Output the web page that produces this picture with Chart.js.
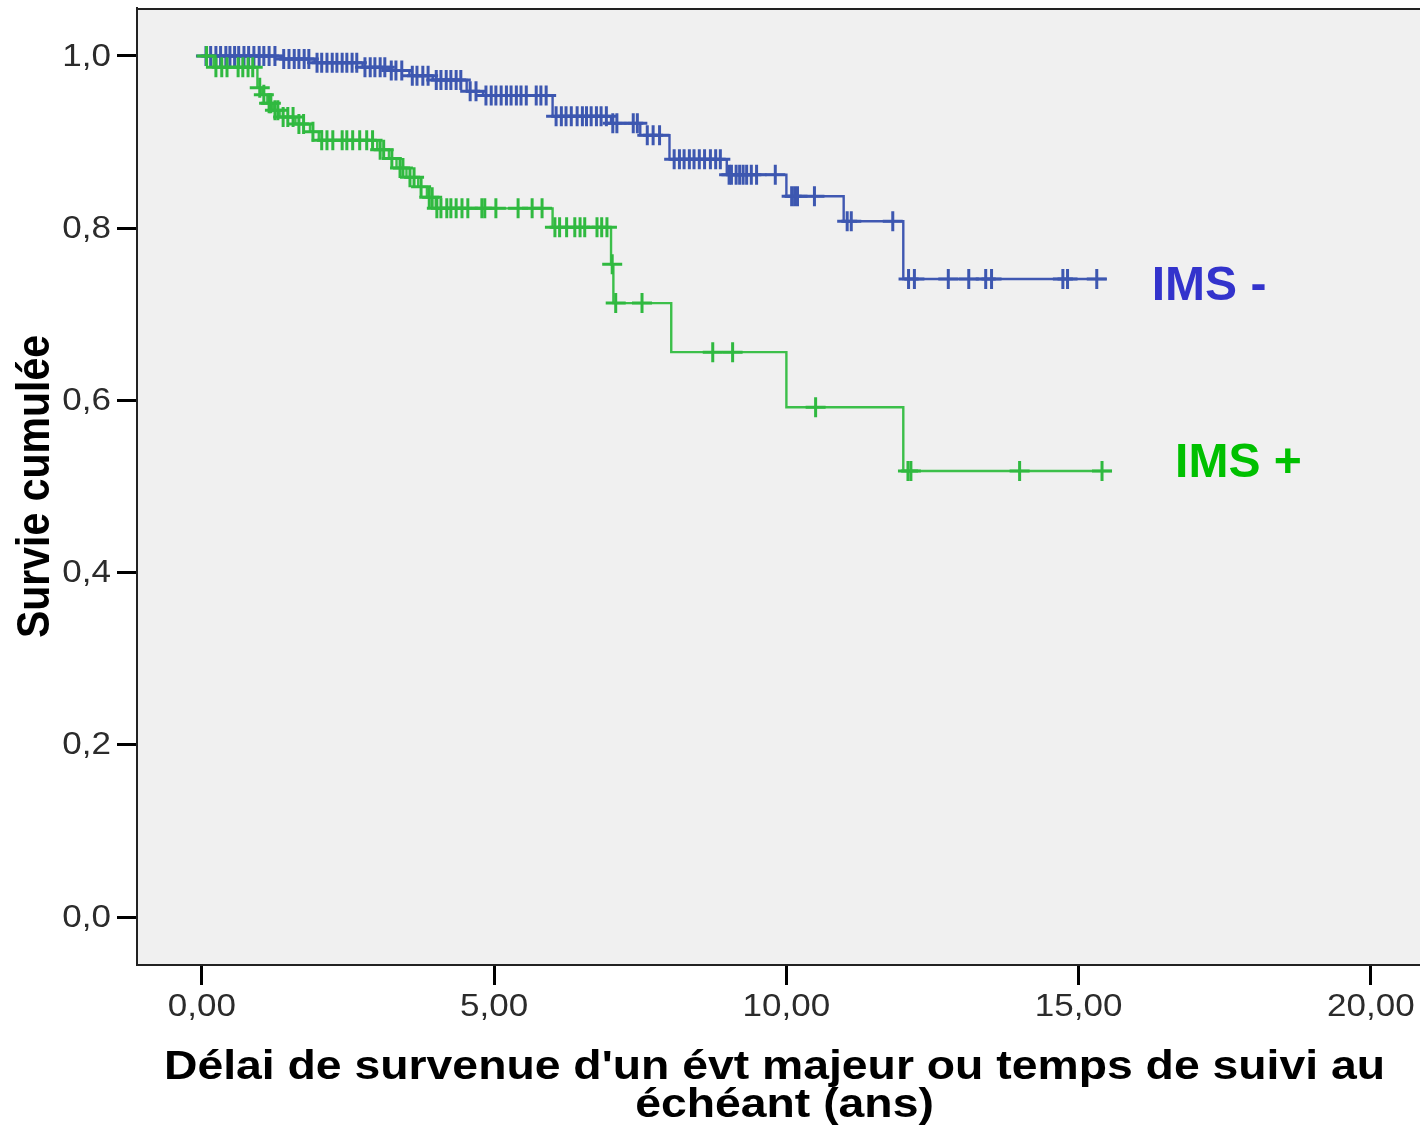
<!DOCTYPE html>
<html>
<head>
<meta charset="utf-8">
<script src="https://cdn.jsdelivr.net/npm/chart.js@4.4.1/dist/chart.umd.min.js"></script>
<style>
  html, body { margin: 0; padding: 0; background: #fff; }
  canvas { display: block; }
</style>
</head>
<body>
<canvas id="survie" width="1420" height="1128"></canvas>
<script>
// Courbes de Kaplan-Meier : temps des événements (ans) et survie après chaque événement
const imsMoinsTemps  = [0, 1.35, 1.93, 2.75, 3.20, 3.55, 3.95, 4.53, 4.81, 6.00, 7.00, 7.50, 8.00, 8.98, 10.00, 10.98, 12.00, 15.48];
const imsMoinsSurvie = [1.000, 0.9965, 0.992, 0.987, 0.983, 0.977, 0.972, 0.959, 0.954, 0.930, 0.922, 0.908, 0.880, 0.862, 0.837, 0.808, 0.741, 0.741];
const imsMoinsCensures = [
  0.07, 0.15, 0.24, 0.32, 0.41, 0.48, 0.56, 0.63, 0.72, 0.80, 0.89, 0.98, 1.06, 1.15, 1.25,
  1.40, 1.49, 1.58, 1.66, 1.75, 1.83,
  1.97, 2.05, 2.14, 2.23, 2.31, 2.40, 2.48, 2.57, 2.65,
  2.79, 2.88, 2.96, 3.05, 3.13,
  3.24, 3.32, 3.42,
  3.60, 3.68, 3.78, 3.87,
  4.01, 4.09, 4.18, 4.26, 4.35, 4.43,
  4.59, 4.69,
  4.86, 4.95, 5.03, 5.12, 5.21, 5.29, 5.38, 5.46, 5.55, 5.72, 5.80, 5.89,
  6.06, 6.15, 6.23, 6.32, 6.42, 6.51, 6.58, 6.66, 6.75, 6.83, 6.92,
  7.03, 7.10, 7.38, 7.45,
  7.62, 7.72, 7.83,
  8.08, 8.17, 8.25, 8.34, 8.42, 8.51, 8.60, 8.70, 8.79, 8.87,
  9.02, 9.06, 9.14, 9.20, 9.26, 9.32, 9.40, 9.49, 9.81,
  10.09, 10.14, 10.19, 10.48,
  11.04, 11.11, 11.82,
  12.09, 12.19, 12.77, 13.12, 13.41, 13.51, 14.73, 14.81, 15.31
];

const imsPlusTemps  = [0, 0.20, 0.95, 1.03, 1.12, 1.22, 1.33, 1.60, 1.85, 2.00, 3.00, 3.20, 3.33, 3.50, 3.70, 3.85, 4.00, 6.00, 7.00, 7.04, 8.03, 10.00, 12.00, 15.57];
const imsPlusSurvie = [1.000, 0.987, 0.963, 0.955, 0.945, 0.937, 0.929, 0.921, 0.912, 0.902, 0.891, 0.881, 0.870, 0.859, 0.848, 0.836, 0.823, 0.801, 0.758, 0.713, 0.656, 0.592, 0.518, 0.518];
const imsPlusCensures = [
  0.08,
  0.24, 0.34, 0.43, 0.62, 0.70, 0.79, 0.87,
  0.99, 1.06, 1.15, 1.18, 1.25, 1.30, 1.39, 1.47, 1.56, 1.66, 1.74, 1.90,
  2.05, 2.14, 2.24, 2.40, 2.48, 2.58, 2.70, 2.82, 2.92,
  3.05, 3.11, 3.25, 3.39, 3.44, 3.56, 3.63, 3.75, 3.89, 3.94,
  4.02, 4.09, 4.19, 4.26, 4.35, 4.45, 4.55, 4.79, 4.84, 5.03, 5.41, 5.65, 5.82,
  6.04, 6.12, 6.24, 6.38, 6.47, 6.55, 6.76, 6.84, 6.93,
  7.02, 7.08, 7.53, 8.74, 9.08, 10.50,
  12.08, 12.13, 13.99, 15.40
];

const xTicks = [0, 5, 10, 15, 20];
const yTicks = [0, 0.2, 0.4, 0.6, 0.8, 1.0];

const titreX = ["Délai de survenue d'un évt majeur ou temps de suivi au", "échéant (ans)"];
const titreY = 'Survie cumulée';
const groupes = [
  { texte: 'IMS -', x: 16.25, y: 0.732, couleur: '#3333cc' },
  { texte: 'IMS +', x: 16.65, y: 0.526, couleur: '#00c000' }
];

const police = '"Liberation Sans", Arial, sans-serif';
const etirement = 1.13; // le texte des axes est un peu plus large que haut

// survie en vigueur à l'instant t (marche précédente)
function niveau(temps, survie, t) {
  let s = survie[0];
  for (let i = 0; i < temps.length; i++) {
    if (temps[i] <= t) s = survie[i];
  }
  return s;
}

const marches = (temps, survie) => temps.map((t, i) => ({ x: t, y: survie[i] }));
const croix = (temps, survie, cens) => cens.map(t => ({ x: t, y: niveau(temps, survie, t) }));

function texteEtire(ctx, txt, x, y) {
  ctx.save();
  ctx.translate(x, y);
  ctx.scale(etirement, 1);
  ctx.fillText(txt, 0, 0);
  ctx.restore();
}

const decor = {
  id: 'decor',
  beforeDraw(chart) {
    const { ctx, chartArea: a } = chart;
    ctx.save();
    ctx.fillStyle = '#f0f0f0';
    ctx.fillRect(a.left, a.top, a.right - a.left, a.bottom - a.top);
    ctx.restore();
  },
  afterDraw(chart) {
    const { ctx, chartArea: a, scales } = chart;
    ctx.save();
    ctx.strokeStyle = '#222';
    ctx.lineWidth = 2;
    ctx.beginPath();
    ctx.moveTo(a.left, a.top + 1);
    ctx.lineTo(a.right, a.top + 1);
    ctx.stroke();

    // étiquettes des graduations
    ctx.fillStyle = '#2b2b2b';
    ctx.font = '31px ' + police;
    ctx.textBaseline = 'middle';
    ctx.textAlign = 'right';
    yTicks.forEach(v => {
      texteEtire(ctx, v.toFixed(1).replace('.', ','), a.left - 26, scales.y.getPixelForValue(v) + 1);
    });
    ctx.textAlign = 'center';
    xTicks.forEach(v => {
      texteEtire(ctx, v.toFixed(2).replace('.', ','), scales.x.getPixelForValue(v), a.bottom + 42);
    });

    // titres des axes
    ctx.fillStyle = '#000';
    ctx.font = 'bold 41px ' + police;
    const cx = (a.left + a.right) / 2;
    texteEtire(ctx, titreX[0], cx - 4, 1068);
    texteEtire(ctx, titreX[1], cx + 6, 1106);

    ctx.save();
    ctx.translate(36, (a.top + a.bottom) / 2);
    ctx.rotate(-Math.PI / 2);
    ctx.scale(1, etirement);
    ctx.fillText(titreY, 0, 0);
    ctx.restore();

    ctx.font = 'bold 48px ' + police;
    ctx.textAlign = 'left';
    groupes.forEach(g => {
      ctx.fillStyle = g.couleur;
      ctx.fillText(g.texte, scales.x.getPixelForValue(g.x), scales.y.getPixelForValue(g.y));
    });
    ctx.restore();
  }
};

const sansMarge = s => {
  s.paddingTop = 0;
  s.paddingBottom = 0;
  s.paddingLeft = 0;
  s.paddingRight = 0;
};

new Chart(document.getElementById('survie'), {
  type: 'scatter',
  data: {
    datasets: [
      {
        data: croix(imsPlusTemps, imsPlusSurvie, imsPlusCensures),
        showLine: false,
        pointStyle: 'cross',
        pointRadius: 10,
        pointBorderWidth: 3,
        borderColor: '#30b940',
        backgroundColor: '#30b940'
      },
      {
        data: marches(imsPlusTemps, imsPlusSurvie),
        showLine: true,
        stepped: true,
        pointRadius: 0,
        borderWidth: 2.4,
        borderColor: '#3cbf4a'
      },
      {
        data: croix(imsMoinsTemps, imsMoinsSurvie, imsMoinsCensures),
        showLine: false,
        pointStyle: 'cross',
        pointRadius: 10,
        pointBorderWidth: 3,
        borderColor: '#3d57b0',
        backgroundColor: '#3d57b0'
      },
      {
        data: marches(imsMoinsTemps, imsMoinsSurvie),
        showLine: true,
        stepped: true,
        pointRadius: 0,
        borderWidth: 2.4,
        borderColor: '#4058b2'
      }
    ]
  },
  options: {
    responsive: false,
    animation: false,
    devicePixelRatio: 1,
    layout: { autoPadding: false, padding: { top: 8, right: 0, left: 0, bottom: 0 } },
    plugins: {
      legend: { display: false },
      tooltip: { enabled: false }
    },
    scales: {
      x: {
        type: 'linear',
        min: -1.11,
        max: 20.84,
        afterFit: s => { s.height = 163; sansMarge(s); },
        afterBuildTicks: s => { s.ticks = xTicks.map(v => ({ value: v })); },
        ticks: { display: false },
        grid: { drawOnChartArea: false, drawTicks: true, tickLength: 20, tickWidth: 3, tickColor: '#000' },
        border: { display: true, color: '#222', width: 2 }
      },
      y: {
        type: 'linear',
        min: -0.0557,
        max: 1.0557,
        afterFit: s => { s.width = 137; sansMarge(s); },
        afterBuildTicks: s => { s.ticks = yTicks.map(v => ({ value: v })); },
        ticks: { display: false },
        grid: { drawOnChartArea: false, drawTicks: true, tickLength: 20, tickWidth: 3, tickColor: '#000' },
        border: { display: true, color: '#222', width: 2 }
      }
    }
  },
  plugins: [decor]
});
</script>
</body>
</html>
